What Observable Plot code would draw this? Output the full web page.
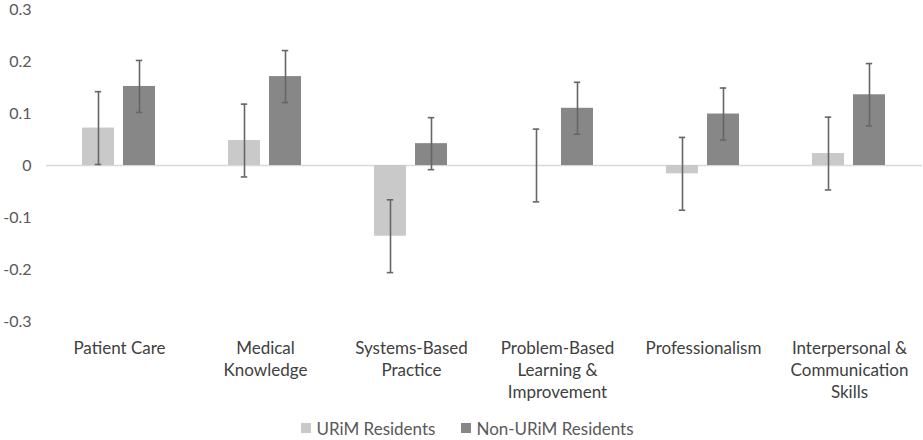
<!DOCTYPE html>
<html><head><meta charset="utf-8">
<script src="https://cdn.jsdelivr.net/npm/d3@7"></script>
<script src="https://cdn.jsdelivr.net/npm/@observablehq/plot@0.6"></script>
<style>
body{margin:0;background:#fff;font-family:Lato,sans-serif;}
#legend{display:flex;justify-content:center;gap:26px;font-size:17px;color:#595959;height:22px;align-items:center;padding-left:12px;margin-top:11px;}
.item{display:flex;align-items:center;}
.sw{display:inline-block;width:10px;height:10px;margin-right:5px;}
</style></head><body>
<div id="chart"></div>
<div id="legend"></div>
<script>
const categories = ["Patient Care","Medical Knowledge","Systems-Based Practice","Problem-Based Learning & Improvement","Professionalism","Interpersonal & Communication Skills"];
const categoryLabels = ["Patient Care","Medical\nKnowledge","Systems-Based\nPractice","Problem-Based\nLearning &\nImprovement","Professionalism","Interpersonal &\nCommunication\nSkills"];
const groups = ["URiM Residents","Non-URiM Residents"];
const urimValues = [0.072,0.048,-0.136,0,-0.016,0.023];
const urimErrors = [0.07,0.07,0.07,0.07,0.07,0.07];
const nonUrimValues = [0.152,0.171,0.042,0.11,0.099,0.136];
const nonUrimErrors = [0.05,0.05,0.05,0.05,0.05,0.06];
const yTicks = [-0.3,-0.2,-0.1,0,0.1,0.2,0.3];
const colors = ["#c9c9c9","#878787"];

const rows = [];
categories.forEach((c,i)=>{
  rows.push({category:c, group:groups[0], value:urimValues[i], lo:urimValues[i]-urimErrors[i], hi:urimValues[i]+urimErrors[i]});
  rows.push({category:c, group:groups[1], value:nonUrimValues[i], lo:nonUrimValues[i]-nonUrimErrors[i], hi:nonUrimValues[i]+nonUrimErrors[i]});
});
const labelMap = new Map(categories.map((c,i)=>[c,categoryLabels[i]]));
const fmt = d => Math.abs(d) < 1e-9 ? "0" : d.toFixed(1);

const chart = Plot.plot({
  width: 923, height: 406,
  marginTop: 9, marginBottom: 85, marginLeft: 46, marginRight: 1,
  style: {fontFamily: "Lato, sans-serif", fontSize: "17px", color: "#595959", background: "#fff"},
  fx: {domain: categories, padding: 0, label: null, axis: null},
  x: {domain: groups, paddingInner: 0.217, paddingOuter: 0.868, axis: null},
  y: {domain: [-0.3, 0.3], label: null, axis: null},
  color: {domain: groups, range: colors},
  marks: [
    Plot.axisY({ticks: yTicks, tickSize: 0, tickPadding: 15, tickFormat: fmt, label: null, fill: "#595959", fontSize: 16}),
    Plot.axisFx({anchor: "bottom", tickSize: 0, tickPadding: 17, tickFormat: d => labelMap.get(d), label: null, lineHeight: 1.3, fill: "#404040", fontSize: 17}),
    Plot.ruleY([0], {stroke: "#d9d9d9", strokeWidth: 1.5}),
    Plot.barY(rows, {fx: "category", x: "group", y: "value", fill: "group"}),
    Plot.ruleX(rows, {fx: "category", x: "group", y1: "lo", y2: "hi", stroke: "#666", strokeWidth: 1.6}),
    Plot.tickY(rows, {fx: "category", x: "group", y: "lo", stroke: "#666", strokeWidth: 1.6, insetLeft: 12.8, insetRight: 12.8}),
    Plot.tickY(rows, {fx: "category", x: "group", y: "hi", stroke: "#666", strokeWidth: 1.6, insetLeft: 12.8, insetRight: 12.8})
  ]
});
document.getElementById("chart").appendChild(chart);

const legend = document.getElementById("legend");
groups.forEach((g,i)=>{
  const item = document.createElement("div");
  item.className = "item";
  const sw = document.createElement("span");
  sw.className = "sw";
  sw.style.background = colors[i];
  item.appendChild(sw);
  item.appendChild(document.createTextNode(g));
  legend.appendChild(item);
});
</script>
</body></html>
